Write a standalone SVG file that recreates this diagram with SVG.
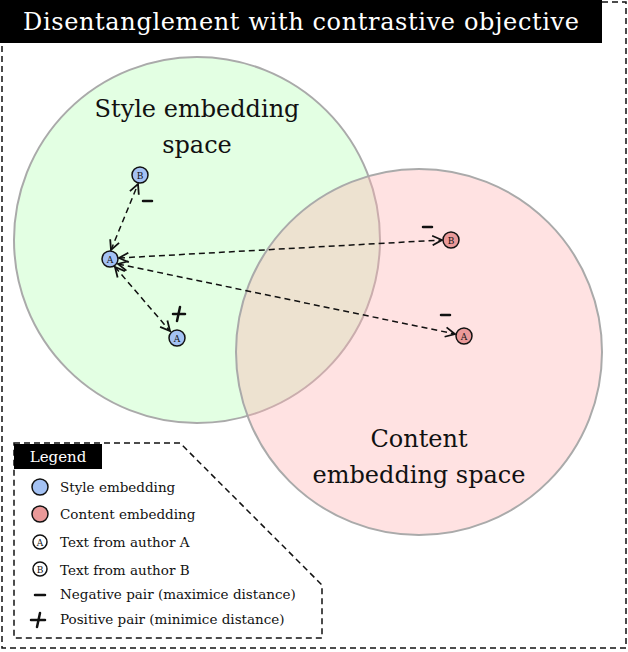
<svg xmlns="http://www.w3.org/2000/svg" width="628" height="652" viewBox="0 0 628 652">
<style>
text{font-family:"DejaVu Serif","Liberation Serif",serif;fill:#111}
.dash{fill:none;stroke:#111;stroke-width:1.5;stroke-dasharray:6 4}
.sty{fill:#a4c2f4;stroke:#111;stroke-width:1.5}
.con{fill:#ea9999;stroke:#111;stroke-width:1.5}
.nl{font-size:9px;text-anchor:middle}
.sign{stroke:#111;stroke-width:2.5;stroke-linecap:round}
.leg{font-size:13.5px}
.big{font-size:24px;text-anchor:middle}
</style>
<defs>
<marker id="ah" viewBox="0 0 10 10" refX="9" refY="5" markerWidth="8" markerHeight="8" orient="auto-start-reverse">
<path d="M1,1 L9,5 L1,9" fill="none" stroke="#111" stroke-width="1.5"/>
</marker>
</defs>
<rect x="2" y="2" width="624" height="646" class="dash"/>
<rect x="0" y="0" width="602" height="43" fill="#000"/>
<text x="301" y="30" font-size="24" text-anchor="middle" textLength="556" style="fill:#fff">Disentanglement with contrastive objective</text>
<g id="style-space">
<circle cx="197" cy="240" r="183" fill="#ccffcc" fill-opacity="0.55" stroke="#aaa" stroke-width="2"/>
<text x="197" y="117" class="big">Style embedding</text>
<text x="197" y="153" class="big">space</text>
</g>
<g id="content-space">
<circle cx="419" cy="352" r="183" fill="#ffb3b3" fill-opacity="0.38" stroke="#aaa" stroke-width="2"/>
<text x="419" y="447" class="big">Content</text>
<text x="419" y="483" class="big">embedding space</text>
</g>
<g id="connectors">
<line x1="111" y1="250" x2="138" y2="184" class="dash" marker-start="url(#ah)" marker-end="url(#ah)"/>
<line x1="119" y1="258" x2="442" y2="240" class="dash" marker-start="url(#ah)" marker-end="url(#ah)"/>
<line x1="118" y1="264" x2="455" y2="334" class="dash" marker-start="url(#ah)" marker-end="url(#ah)"/>
<line x1="115" y1="267" x2="170" y2="331" class="dash" marker-start="url(#ah)" marker-end="url(#ah)"/>
<line x1="143" y1="201" x2="152" y2="201" class="sign"/>
<line x1="423" y1="227" x2="432" y2="227" class="sign"/>
<line x1="441" y1="315" x2="450" y2="315" class="sign"/>
<line x1="173" y1="314" x2="185" y2="314" class="sign"/>
<line x1="180" y1="307" x2="177" y2="321" class="sign"/>
</g>
<g id="style-B"><circle cx="140" cy="175" r="8" class="sty"/><text x="140" y="178.5" class="nl">B</text></g>
<g id="style-A"><circle cx="110" cy="259" r="8" class="sty"/><text x="110" y="262.5" class="nl">A</text></g>
<g id="style-A2"><circle cx="177" cy="338" r="8" class="sty"/><text x="177" y="341.5" class="nl">A</text></g>
<g id="content-B"><circle cx="451" cy="240" r="8" class="con"/><text x="451" y="243.5" class="nl">B</text></g>
<g id="content-A"><circle cx="464" cy="336" r="8" class="con"/><text x="464" y="339.5" class="nl">A</text></g>
<g id="legend">
<path d="M14,443 L180,443 L322,585 L322,638 L14,638 Z" class="dash"/>
<rect x="14" y="444" width="88" height="25" fill="#000"/>
<text x="58" y="462" font-size="15" text-anchor="middle" style="fill:#fff">Legend</text>
<circle cx="40" cy="487" r="8" class="sty"/><text x="60" y="492" class="leg">Style embedding</text>
<circle cx="40" cy="514" r="8" class="con"/><text x="60" y="519" class="leg">Content embedding</text>
<circle cx="40" cy="542" r="7" fill="#fff" stroke="#111" stroke-width="1.5"/><text x="40" y="545.5" class="nl">A</text><text x="60" y="547" class="leg">Text from author A</text>
<circle cx="40" cy="569" r="7" fill="#fff" stroke="#111" stroke-width="1.5"/><text x="40" y="572.5" class="nl">B</text><text x="60" y="575" class="leg">Text from author B</text>
<line x1="35" y1="595" x2="45" y2="595" class="sign"/><text x="60" y="599" class="leg">Negative pair (maximice distance)</text>
<line x1="31" y1="620" x2="45" y2="620" class="sign"/><line x1="40" y1="613" x2="37" y2="627" class="sign"/><text x="60" y="624" class="leg">Positive pair (minimice distance)</text>
</g>
</svg>
